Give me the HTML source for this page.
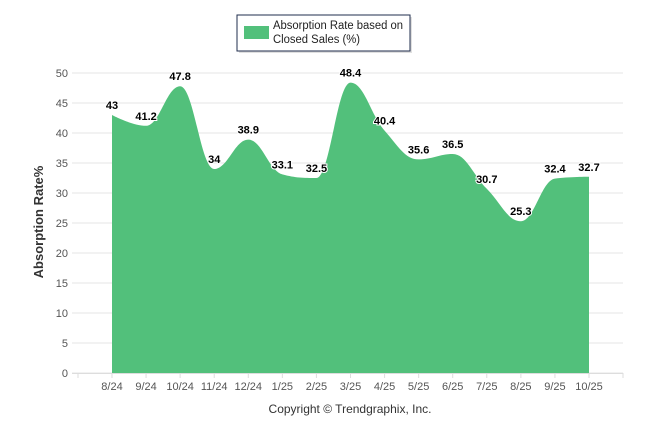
<!DOCTYPE html>
<html><head><meta charset="utf-8"><style>
html,body{margin:0;padding:0;background:#fff;width:646px;height:434px;overflow:hidden}
svg{display:block;font-family:"Liberation Sans",Arial,sans-serif}
</style></head><body>
<svg id="chart" width="646" height="434">
  <g>
    <rect x="238" y="16" width="173" height="36" fill="#999" opacity="0.3" transform="translate(1,1)"/>
    <rect x="237" y="15" width="173" height="36" fill="#fff" stroke="#1f2d4d" stroke-width="1"/>
    <rect x="244" y="26" width="25" height="13" fill="#52c07b"/>
    <text x="273" y="29" font-size="11.5" fill="#222" textLength="130" lengthAdjust="spacingAndGlyphs">Absorption Rate based on</text>
    <text x="273" y="43" font-size="11.5" fill="#222" textLength="87" lengthAdjust="spacingAndGlyphs">Closed Sales (%)</text>
  </g>
  <g id="grid"></g>
  <g id="area"></g>
  <g id="labels"></g>
  <g id="xaxis"></g>
  <text transform="translate(43,222) rotate(-90)" text-anchor="middle" font-size="13" font-weight="bold" fill="#333">Absorption Rate%</text>
  <text x="350" y="413" text-anchor="middle" font-size="12" fill="#333">Copyright © Trendgraphix, Inc.</text>
</svg>
<script>
const categories=["8/24","9/24","10/24","11/24","12/24","1/25","2/25","3/25","4/25","5/25","6/25","7/25","8/25","9/25","10/25"];
const values=[43,41.2,47.8,34,38.9,33.1,32.5,48.4,40.4,35.6,36.5,30.7,25.3,32.4,32.7];
const yTicks=[0,5,10,15,20,25,30,35,40,45,50];
const NS="http://www.w3.org/2000/svg";
const L=72,R=623,T=73,B=373,yMax=50;
const firstX=112, lastX=589;
function xs(i){return firstX+(lastX-firstX)*i/(categories.length-1);}
function ys(v){return B-(B-T)*v/yMax;}
function mk(tag,attrs,parent){const e=document.createElementNS(NS,tag);for(const k in attrs)e.setAttribute(k,attrs[k]);parent.appendChild(e);return e;}
const grid=document.getElementById('grid');
yTicks.forEach(t=>{
  const ln=mk('line',{x1:L,x2:R,y1:ys(t),y2:ys(t),stroke:'#e6e6e6','stroke-width':1},grid);
  
  
  const tx=mk('text',{x:68,y:ys(t)+4,'text-anchor':'end','font-size':11,fill:'#555'},grid);
  tx.textContent=t;
  
  
});
const pts=values.map((v,i)=>({x:xs(i),y:ys(v)}));
const sm=1.5,den=2.5;
const conts=pts.map((p,i)=>{
  if(i===0||i===pts.length-1)return null;
  const a=pts[i-1],b=pts[i+1];
  let lx=(sm*p.x+a.x)/den,ly=(sm*p.y+a.y)/den,rx=(sm*p.x+b.x)/den,ry=(sm*p.y+b.y)/den;
  const c=((ry-ly)*(rx-p.x))/(rx-lx)+p.y-ry;ly+=c;ry+=c;
  if(ly>Math.max(a.y,p.y)){ly=Math.max(a.y,p.y);ry=2*p.y-ly;}
  else if(ly<Math.min(a.y,p.y)){ly=Math.min(a.y,p.y);ry=2*p.y-ly;}
  if(ry>Math.max(b.y,p.y)){ry=Math.max(b.y,p.y);ly=2*p.y-ry;}
  else if(ry<Math.min(b.y,p.y)){ry=Math.min(b.y,p.y);ly=2*p.y-ry;}
  return {lx,ly,rx,ry};
});
let d=`M${pts[0].x},${B} L${pts[0].x},${pts[0].y}`;
for(let i=1;i<pts.length;i++){
  const pc=conts[i-1],cc=conts[i],p=pts[i],q=pts[i-1];
  const c1x=pc?pc.rx:q.x,c1y=pc?pc.ry:q.y,c2x=cc?cc.lx:p.x,c2y=cc?cc.ly:p.y;
  d+=` C${c1x},${c1y} ${c2x},${c2y} ${p.x},${p.y}`;
}
d+=` L${pts[pts.length-1].x},${B} Z`;
const area=mk('path',{d:d,fill:'#52c07b'},document.getElementById('area'));


const lab=document.getElementById('labels');
values.forEach((v,i)=>{
  const t=mk('text',{x:xs(i),y:ys(v)-6,'text-anchor':'middle','font-size':11,'font-weight':'bold',fill:'#000',stroke:'#fff','stroke-width':2,'paint-order':'stroke'},lab);
  t.textContent=v;
  
  
});
const xa=document.getElementById('xaxis');
const axl=mk('line',{x1:L,x2:R,y1:B+0.5,y2:B+0.5,stroke:'#ddd'},xa);


const tickXs=[L+6];
for(let i=0;i<categories.length;i++)tickXs.push(xs(i));
tickXs.push(R);
tickXs.forEach(x=>{mk('line',{x1:x,x2:x,y1:B,y2:B+5,stroke:'#ddd'},xa);});
categories.forEach((c,i)=>{
  const t=mk('text',{x:xs(i),y:B+17,'text-anchor':'middle','font-size':11,fill:'#555'},xa);
  t.textContent=c;
  
  
});
</script>
</body></html>
